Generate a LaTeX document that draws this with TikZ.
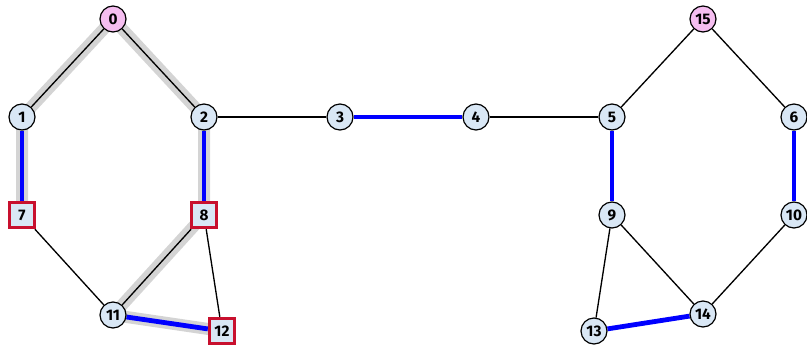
\documentclass[tikz,border=0pt]{standalone}
\usepackage{fontspec}
\setsansfont{Fira Sans}
\usepackage{xcolor}
\usetikzlibrary{positioning,backgrounds}
\definecolor{vfill}{HTML}{D9E7F5}
\definecolor{rfill}{HTML}{F5BEF0}
\definecolor{mred}{HTML}{C8102E}
\definecolor{hgray}{HTML}{D4D4D4}

\begin{document}
\begin{tikzpicture}[
  x=0.75pt, y=-0.75pt, font=\sffamily\bfseries\fontsize{11.5}{13}\selectfont,
  vert/.style={draw,circle,fill=vfill,line width=0.9pt,inner sep=0pt,minimum size=19.5pt},
  root/.style={vert,fill=rfill},
  matched/.style={draw=mred,rectangle,fill=vfill,line width=2.3pt,inner sep=0pt,minimum size=19pt},
  edge/.style={line width=1pt},
  medge/.style={line width=3.6pt,blue},
  hpath/.style={line width=9pt,hgray}
]
\useasboundingbox (0,0) rectangle (807,347);
% vertices
\node[root] (v0) at (113,19) {0};
\node[vert] (v1) at (22,117) {1};
\node[vert] (v2) at (204,117) {2};
\node[vert] (v3) at (340,117) {3};
\node[vert] (v4) at (476,117) {4};
\node[vert] (v5) at (612,117) {5};
\node[vert] (v6) at (794,117) {6};
\node[matched] (v7) at (22,215) {7};
\node[matched] (v8) at (204,215) {8};
\node[vert] (v9) at (612,215) {9};
\node[vert] (v10) at (794,215) {10};
\node[vert] (v11) at (113,315) {11};
\node[matched] (v12) at (222,331) {12};
\node[vert] (v13) at (594,331) {13};
\node[vert] (v14) at (703,314) {14};
\node[root] (v15) at (703,19) {15};
\begin{scope}[on background layer]
% alternating paths
\draw[hpath] (v7.center) -- (v1.center) -- (v0.center) -- (v2.center) -- (v8.center) -- (v11.center) -- (v12.center);
% edges
\foreach \a/\b in {0/1,0/2,2/3,4/5,7/11,8/11,8/12,5/15,15/6,9/13,9/14,10/14}
  \draw[edge] (v\a) -- (v\b);
\foreach \a/\b in {1/7,2/8,3/4,11/12,5/9,6/10,13/14}
  \draw[medge] (v\a) -- (v\b);
\end{scope}
\end{tikzpicture}
\end{document}
